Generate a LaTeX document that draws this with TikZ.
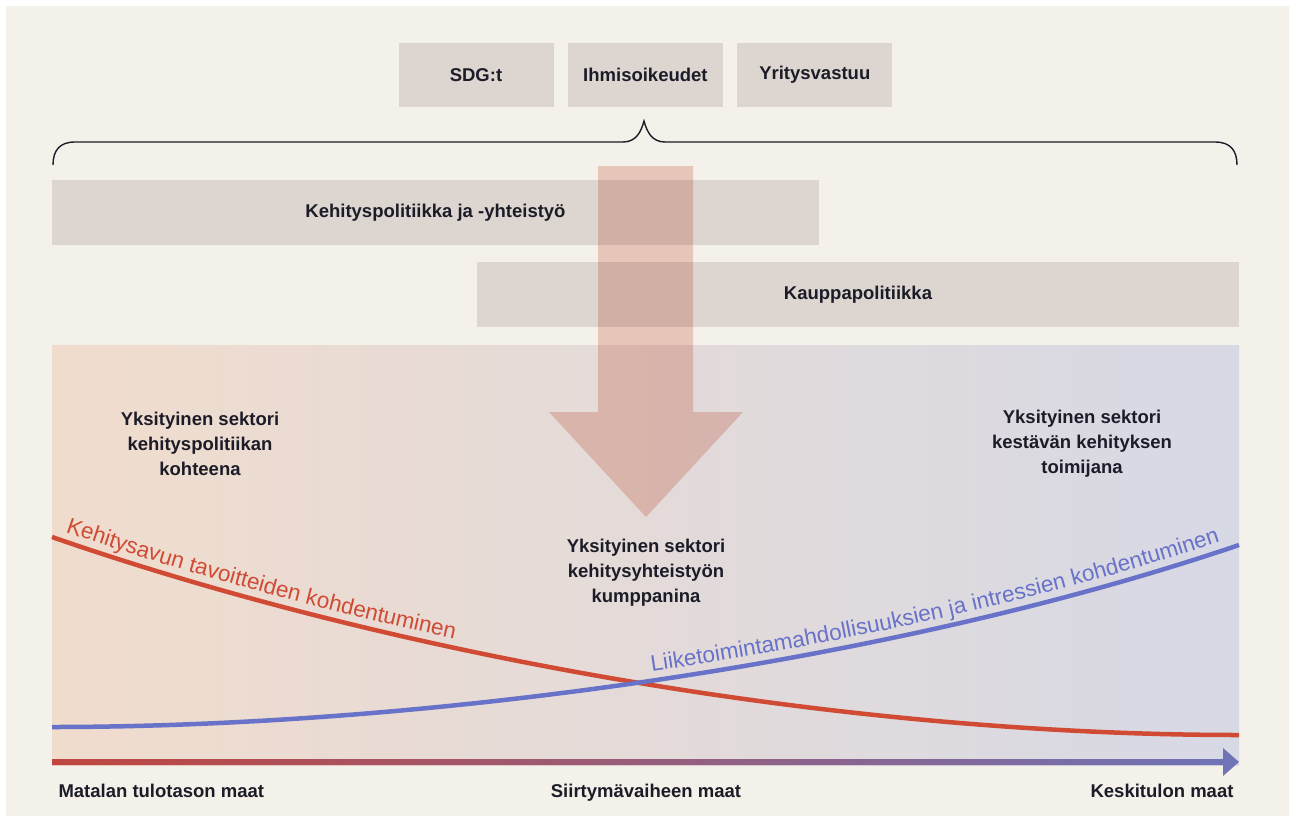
\documentclass[tikz,border=0pt]{standalone}
\usepackage{fontspec}
\setmainfont{Liberation Sans}
\usetikzlibrary{positioning,decorations.text}

\definecolor{cream}{RGB}{244,241,234}
\definecolor{boxgrey}{RGB}{221,213,208}
\definecolor{peach}{RGB}{240,220,205}
\definecolor{lavender}{RGB}{215,217,229}
\definecolor{aidred}{RGB}{208,74,52}
\definecolor{bizblue}{RGB}{104,114,201}
\definecolor{axisred}{RGB}{192,70,63}
\definecolor{axisblue}{RGB}{110,116,184}
\definecolor{arrowtint}{RGB}{242,210,202}
\definecolor{ink}{RGB}{28,28,40}

\newcommand{\panelfont}{\fontsize{18.5}{25}\selectfont\bfseries}
\newcommand{\curvefont}{\fontsize{22.5}{24}\selectfont}

\begin{document}
\begin{tikzpicture}[
		x=1pt, y=1pt,
		node distance=14pt,
		panel/.style={fill=boxgrey, inner sep=0pt, minimum height=65pt, font=\panelfont, text=ink},
		topic/.style={panel, minimum width=155pt, minimum height=64pt},
		sector/.style={align=center, font=\panelfont, text=ink},
		country/.style={font=\panelfont, text=ink},
		curve/.style={line width=4.5pt},
	]
		\useasboundingbox (0,0) rectangle (1289,-816);
		\fill[white] (0,0) rectangle (1289,-816);
		\fill[cream] (6,-6) rectangle (1289,-816);

		% frameworks on top
		\node [topic] (sdg) at (476,-75) {SDG:t};
		\node [topic, right=of sdg] (rights) {Ihmisoikeudet};
		\node [topic, right=of rights] (csr) {Yritysvastuu};

		% brace
		\coordinate (tip) at (644,-121);
		\draw[ink, line width=1.4pt] (53,-165) .. controls (53,-150) and (60,-142) .. (75,-142)
			-- (623,-142) .. controls (636,-142) and (641,-132) .. (tip)
			.. controls (647,-132) and (652,-142) .. (665,-142)
			-- (1215,-142) .. controls (1230,-142) and (1237,-150) .. (1237,-165);

		% policies
		\node [panel, minimum width=767pt] (devpol) at (435.5,-212.5) {Kehityspolitiikka ja -yhteistyö};
		\node [panel, minimum width=762pt] (tradepol) at (858,-294.5) {Kauppapolitiikka};

		% field
		\shade[left color=peach, right color=lavender] (52,-345) rectangle (1239,-765);

		% big arrow
		\begin{scope}[blend mode=multiply]
			\fill[arrowtint] (598,-166) -- (693,-166) -- (693,-412) -- (743,-412)
				-- (646,-517) -- (549,-412) -- (598,-412) -- cycle;
		\end{scope}

		\node [sector] (target) at (200,-444) {Yksityinen sektori\\kehityspolitiikan\\kohteena};
		\node [sector] (partner) at (646,-573) {Yksityinen sektori\\kehitysyhteistyön\\kumppanina};
		\node [sector] (actor) at (1082,-444) {Yksityinen sektori\\kestävän kehityksen\\toimijana};

		% curves
		\draw[curve, aidred] (52,-537) .. controls (392,-655) and (839,-735) .. (1239,-735);
		\path[decorate, decoration={text along path, text color=aidred, raise=9pt,
			text={|\curvefont|Kehitysavun tavoitteiden kohdentuminen},
			text align={left indent=11pt}}]
			(52,-537) .. controls (392,-655) and (839,-735) .. (1239,-735);
		\draw[curve, bizblue] (52,-727) .. controls (420,-727) and (889,-664) .. (1239,-545);
		\path[decorate, decoration={text along path, text color=bizblue, raise=9pt,
			text={|\curvefont|Liiketoimintamahdollisuuksien ja intressien kohdentuminen},
			text align={right, right indent=18pt}}]
			(52,-727) .. controls (420,-727) and (889,-664) .. (1239,-545);

		% axis
		\shade[left color=axisred, right color=axisblue] (52,-759) -- (1223,-759) -- (1223,-748)
			-- (1239,-762) -- (1223,-776) -- (1223,-765) -- (52,-765) -- cycle;
		\node [country, anchor=base west] (low) at (55,-797) {Matalan tulotason maat};
		\node [country, anchor=base] (mid) at (646,-797) {Siirtymävaiheen maat};
		\node [country, anchor=base east] (high) at (1237,-797) {Keskitulon maat};
	\end{tikzpicture}
\end{document}
